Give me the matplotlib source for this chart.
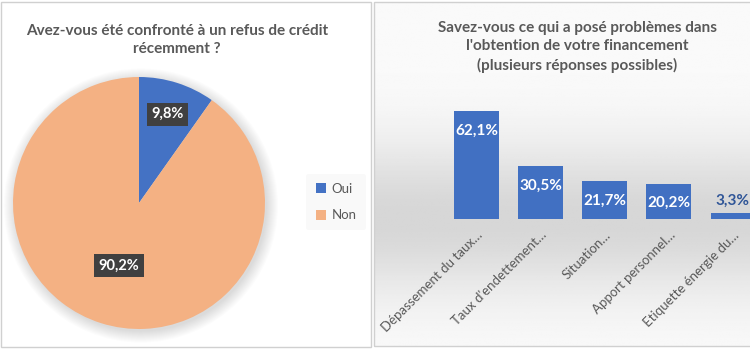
import numpy as np
import matplotlib.pyplot as plt
from matplotlib.patches import Rectangle, Circle

plt.rcParams['font.family'] = ['Lato', 'DejaVu Sans']

# data
pie_labels = ['Oui', 'Non']
pie_values = [9.8, 90.2]
pie_colors = ['#4472C4', '#F4B183']

bar_labels = ['Dépassement du taux…', "Taux d'endettement…", 'Situation…',
              'Apport personnel…', 'Etiquette énergie du…']
bar_values = [62.1, 30.5, 21.7, 20.2, 3.3]

title_col = '#595959'
W, H = 750, 350

fig = plt.figure(figsize=(7.5, 3.5), dpi=100)
fig.patch.set_facecolor('white')


def px(x0, y0, x1, y1):
    """pixel box (top-left origin) -> figure rect"""
    return [x0 / W, 1 - y1 / H, (x1 - x0) / W, (y1 - y0) / H]


# right panel background gradient
bg = fig.add_axes(px(374, 2, 750, 346), zorder=0)
yy = np.linspace(0, 1, 200)
shade = 1 - 0.14 * np.exp(-((yy - 0.63) / 0.22) ** 2) - 0.02
bg.imshow(np.tile(shade[:, None], (1, 2)), cmap='gray', vmin=0, vmax=1,
          aspect='auto', extent=[0, 1, 0, 1], origin='upper')
bg.set_axis_off()

# panel borders
for box in [(1, 2, 371, 347), (374, 2, 760, 346)]:
    x0, y0, x1, y1 = box
    fig.patches.append(Rectangle((x0 / W, 1 - y1 / H), (x1 - x0) / W, (y1 - y0) / H,
                                 transform=fig.transFigure, fill=False,
                                 edgecolor='#d0d0d0', lw=1, zorder=5))

# ---- pie chart ----
ax1 = fig.add_axes(px(13, 77, 265, 329), zorder=2)
for i in range(12):
    ax1.add_patch(Circle((0.015, -0.02), 1 + 0.008 * i, color='#000000',
                         alpha=0.012, lw=0, zorder=0, clip_on=False))
wedges, _ = ax1.pie(pie_values, colors=pie_colors, startangle=90, counterclock=False,
                    radius=1, wedgeprops=dict(lw=0))
for w in wedges:
    w.set_zorder(2)
ax1.set_xlim(-1, 1)
ax1.set_ylim(-1, 1)
ax1.set_aspect('equal')
ax1.axis('off')

dists = [0.74, 0.52]
start = 90
for v, d in zip(pie_values, dists):
    ang = np.deg2rad(start - v * 3.6 / 2)
    start -= v * 3.6
    ax1.text(d * np.cos(ang), d * np.sin(ang), f'{v:.1f}%'.replace('.', ','),
             ha='center', va='center', color='white', fontsize=10.5, fontweight='bold',
             zorder=4,
             bbox=dict(boxstyle='square,pad=0.3', fc='#404040', ec='none'))

fig.text(177 / W, 1 - 40 / H, 'Avez-vous été confronté à un refus de crédit\nrécemment ?',
         ha='center', va='center', fontsize=11, fontweight='bold', color=title_col,
         linespacing=1.4)

leg = fig.legend(wedges, pie_labels, loc='center', bbox_to_anchor=(336 / W, 1 - 202 / H),
                 frameon=True, fontsize=9.5, handlelength=0.8, handleheight=0.8,
                 labelspacing=1.1, handletextpad=0.4, borderpad=0.7)
leg.get_frame().set_facecolor('#f8f8f8')
leg.get_frame().set_edgecolor('none')
for t in leg.get_texts():
    t.set_color(title_col)

# ---- bar chart ----
ax2 = fig.add_axes(px(444.5, 219 - 70 * 1.74, 765, 219), zorder=2)
ax2.patch.set_alpha(0)
x = np.arange(len(bar_values))
bars = ax2.bar(x, bar_values, width=0.7, color='#4170C2', zorder=3)
ax2.set_xlim(-0.5, len(bar_values) - 0.5)
ax2.set_ylim(0, 70)
for s in ax2.spines.values():
    s.set_visible(False)
ax2.set_yticks([])
ax2.set_xticks(x)
ax2.set_xticklabels(bar_labels, rotation=45, ha='right', rotation_mode='anchor',
                    fontsize=9.5, color=title_col)
ax2.tick_params(axis='x', length=0, pad=7)

for xi, v in zip(x, bar_values):
    lbl = f'{v:.1f}%'.replace('.', ',')
    if v > 10:
        ax2.annotate(lbl, (xi, v), xytext=(0, -14), textcoords='offset points',
                     ha='center', va='center', color='white', fontsize=11,
                     fontweight='bold', zorder=4)
    else:
        ax2.annotate(lbl, (xi, v), xytext=(0, 9), textcoords='offset points',
                     ha='center', va='center', color='#2F5597', fontsize=11,
                     fontweight='bold', zorder=4)

fig.text(577 / W, 1 - 47 / H,
         "Savez-vous ce qui a posé problèmes dans\nl'obtention de votre financement\n(plusieurs réponses possibles)",
         ha='center', va='center', fontsize=11, fontweight='bold', color=title_col,
         linespacing=1.4)

fig.savefig('out.png', dpi=100, facecolor='white')
